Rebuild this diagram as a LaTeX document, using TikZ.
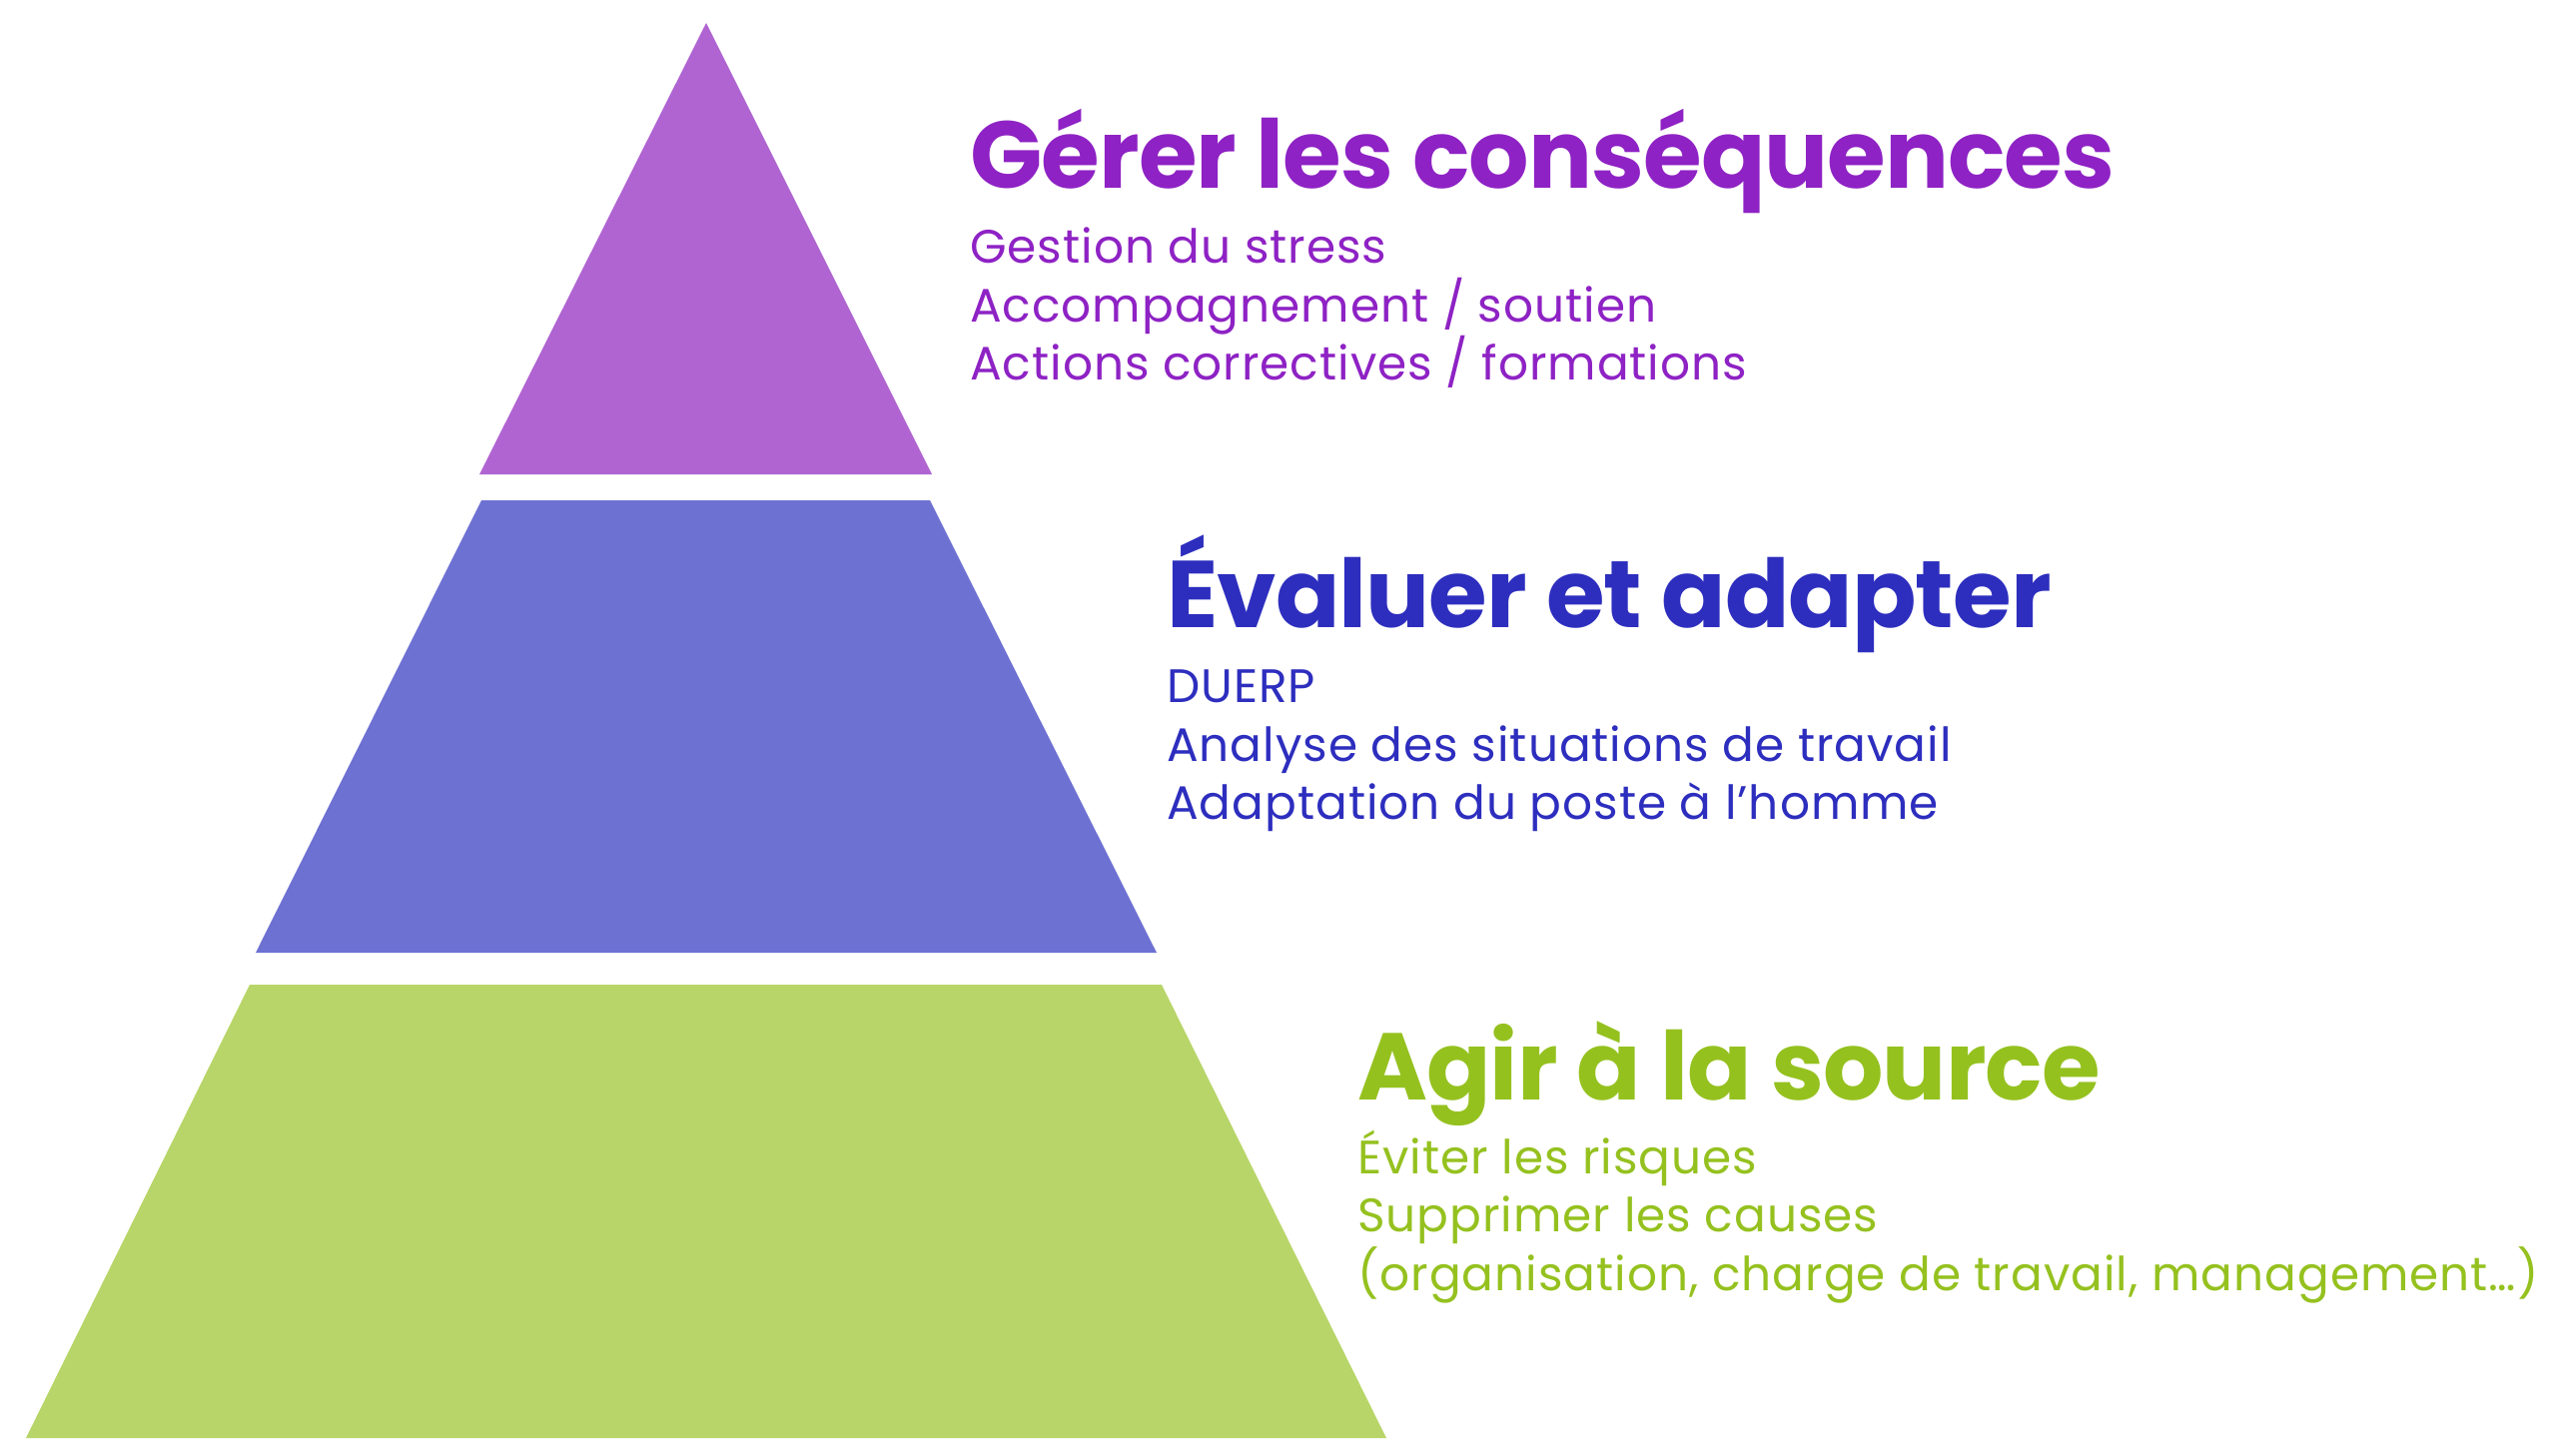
\documentclass[tikz,border=0pt]{standalone}
\usepackage{fontspec}
\setmainfont{Poppins}
\definecolor{fillA}{HTML}{B064D2}
\definecolor{fillB}{HTML}{6D71D2}
\definecolor{fillC}{HTML}{B8D569}
\definecolor{textA}{HTML}{8E22C4}
\definecolor{textB}{HTML}{2D2EBE}
\definecolor{textC}{HTML}{95C11F}
\begin{document}
\begin{tikzpicture}[x=1pt,y=-1pt,
  head/.style={anchor=base west, inner sep=0pt, font=\fontsize{95}{114}\selectfont\bfseries\addfontfeatures{LetterSpace=-1}},
  item/.style={anchor=base west, inner sep=0pt, font=\fontsize{47}{58}\selectfont\addfontfeatures{LetterSpace=2.1}}]
\useasboundingbox (0,0) rectangle (2560,1457);
% tiers
\fill[fillA] (707,23) -- (933,475) -- (480,475) -- cycle;
\fill[fillB] (482,501) -- (931,501) -- (1158,954) -- (256,954) -- cycle;
\fill[fillC] (250,986) -- (1163,986) -- (1388,1440) -- (26,1440) -- cycle;
% top texts
\node[head, text=textA] (hA) at (971,188) {Gérer les conséquences};
\node[item, text=textA] (a1) at (971,263) {Gestion du stress};
\node[item, text=textA] (a2) at (971,322) {Accompagnement / soutien};
\node[item, text=textA] (a3) at (971,380) {Actions correctives / formations};
% middle texts
\node[head, text=textB] (hB) at (1168,628) {Évaluer et adapter};
\node[item, text=textB] (b1) at (1168,703) {DUERP};
\node[item, text=textB] (b2) at (1168,762) {Analyse des situations de travail};
\node[item, text=textB] (b3) at (1168,820) {Adaptation du poste à l’homme};
% bottom texts
\node[head, text=textC] (hC) at (1359,1101) {Agir à la source};
\node[item, text=textC] (c1) at (1359,1175) {Éviter les risques};
\node[item, text=textC] (c2) at (1359,1233) {Supprimer les causes};
\node[item, text=textC] (c3) at (1359,1292) {(organisation, charge de travail, management…)};
\end{tikzpicture}
\end{document}
